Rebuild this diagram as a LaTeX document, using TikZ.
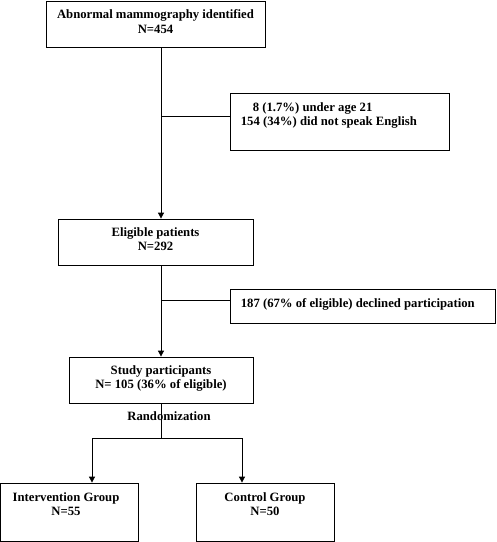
\documentclass[tikz,border=0pt]{standalone}
\usepackage{fontspec}
\setmainfont{Liberation Serif}
\usetikzlibrary{arrows.meta,calc,positioning}
\newcommand{\linewd}{0.8pt}
\newcommand{\boxfont}{\fontsize{12.7}{14.8}\selectfont\bfseries}

\begin{document}
\begin{tikzpicture}[x = 1pt, y = -1pt,
    flowbox/.style = {draw, line width = \linewd, inner sep = 0pt, minimum width = #1},
    boxtext/.style = {font = \boxfont, inner sep = 0pt, align = center},
    flowarrow/.style = {line width = \linewd, -{Triangle[width = 6pt, length = 6pt]}}
]

    \useasboundingbox (0,0) rectangle (497,542);

%%%%        Boxes
    \node[flowbox = 219pt, minimum height = 46pt] (abn) at (155.5,24) {};
    \node[flowbox = 219pt, minimum height = 57pt] (excl) at (339.5,121.5) {};
    \node[flowbox = 195pt, minimum height = 46pt] (elig) at (155.5,242) {};
    \node[flowbox = 265pt, minimum height = 34pt] (decl) at (362.5,306) {};
    \node[flowbox = 184pt, minimum height = 46pt] (study) at (161,380) {};
%groups
    \node[flowbox = 138pt, minimum height = 58pt] (interv) at (69,512) {};
    \node[flowbox = 138pt, minimum height = 58pt] (ctrl) at (265,512) {};

%%%%        Labels
    \node[boxtext, anchor = north] (abntxt) at ($(abn.north)+(0,8.5)$) {Abnormal mammography identified\\N=454};
    \node[boxtext, anchor = north west, align = left] (excltxt) at ($(excl.north west)+(11,9.5)$)
        {\hspace*{12pt}8 (1.7\%) under age 21\\154 (34\%) did not speak English};
    \node[boxtext, anchor = north] (eligtxt) at ($(elig.north)+(0,8.5)$) {Eligible patients\\N=292};
    \node[boxtext, anchor = west] (decltxt) at ($(decl.west)+(11,-2)$) {187 (67\% of eligible) declined participation};
    \node[boxtext, anchor = north] (studytxt) at ($(study.north)+(0,8.5)$) {Study participants\\N= 105 (36\% of eligible)};
    \node[boxtext, anchor = north] (intervtxt) at ($(interv.north)+(-3,9.5)$) {Intervention Group\\N=55};
    \node[boxtext, anchor = north] (ctrltxt) at ($(ctrl.north)+(0,9.5)$) {Control Group\\N=50};
    \node[boxtext] (rand) at (169,416) {Randomization};

%%%%        Trunk
    \coordinate (t1) at (161,116);
    \coordinate (t2) at (161,300);
    \coordinate (split) at (161,438);
    \coordinate (li) at (92,438);
    \coordinate (ri) at (242,438);

    \draw[flowarrow] (abn.south -| t1) -- (elig.north -| t1);
    \draw[line width = \linewd] (t1) -- (excl.west |- t1);
    \draw[flowarrow] (elig.south -| t2) -- (study.north -| t2);
    \draw[line width = \linewd] (t2) -- (decl.west |- t2);

    \draw[line width = \linewd] (study.south -| split) -- (split);
    \draw[line width = \linewd] (li) -- (ri);
    \draw[flowarrow] (li) -- (interv.north -| li);
    \draw[flowarrow] (ri) -- (ctrl.north -| ri);
\end{tikzpicture}
\end{document}
